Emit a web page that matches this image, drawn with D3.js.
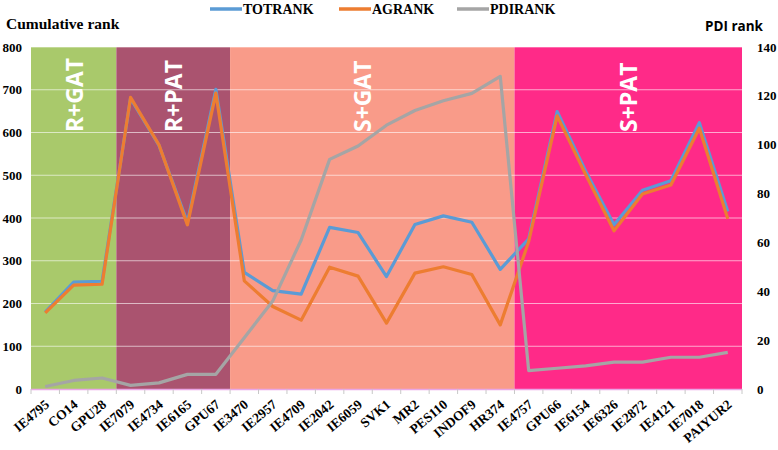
<!DOCTYPE html>
<html><head><meta charset="utf-8">
<script src="https://cdn.jsdelivr.net/npm/d3@7"></script>
<style>body{margin:0;background:#fff}</style>
</head><body>
<svg id="c" width="778" height="450"></svg>
<script>
const categories = ["IE4795","CO14","GPU28","IE7079","IE4734","IE6165","GPU67","IE3470","IE2957","IE4709","IE2042","IE6059","SVK1","MR2","PES110","INDOF9","HR374","IE4757","GPU66","IE6154","IE6326","IE2872","IE4121","IE7018","PAIYUR2"];
const totrank = [180,250,252,680,570,390,701,273,230,222,378,366,263,385,405,390,280,351,649,510,384,465,487,623,415];
const agrank  = [178,243,245,682,571,384,692,253,193,161,285,264,154,271,286,268,150,345,639,502,370,456,477,610,398];
const pdirank = [1,3.5,4.5,1.5,2.5,6,6,21,36,61,94,99.5,108,114,118,121,128,7.5,8.5,9.5,11,11,13,13,15];
const groupNames = ["R+GAT","R+PAT","S+GAT","S+PAT"];
const groupStart = ["IE4795","IE7079","IE3470","IE4757"];
const groupEnd   = ["GPU28","GPU67","HR374","PAIYUR2"];
const groupColors = ["#a9c96b","#aa536f","#f99b89","#ff2a88"];
const leftTicks = [0,100,200,300,400,500,600,700,800];
const rightTicks = [0,20,40,60,80,100,120,140];
const seriesNames = ["TOTRANK","AGRANK","PDIRANK"];
const seriesColors = ["#5b9bd5","#ed7d31","#a5a5a5"];

const svg = d3.select("#c");
const L = 31, R = 742, T = 47, B = 389;
const x = d3.scaleBand().domain(categories).range([L, R]);
const yL = d3.scaleLinear().domain([0, 800]).range([B, T]);
const yR = d3.scaleLinear().domain([0, 140]).range([B, T]);

// backgrounds
groupNames.forEach((g, i) => {
  const x0 = x(groupStart[i]), x1 = x(groupEnd[i]) + x.bandwidth();
  svg.append("rect").attr("x", x0).attr("y", T).attr("width", x1 - x0).attr("height", B - T).attr("fill", groupColors[i]);
});
// gridlines
svg.append("g").selectAll("line").data(leftTicks.filter(d => d > 0)).join("line")
  .attr("x1", L).attr("x2", R).attr("y1", d => yL(d)).attr("y2", d => yL(d))
  .attr("stroke", "#ffffff").attr("stroke-opacity", 0.6).attr("stroke-width", 1.2);

// group labels
groupNames.forEach((g, i) => {
  const x0 = x(groupStart[i]), x1 = x(groupEnd[i]) + x.bandwidth();
  const cx = (x0 + x1) / 2 + (i === 2 ? -10 : 0) + 9;
  svg.append("text").attr("transform", `translate(${cx},132) rotate(-90)`)
    .attr("text-anchor", "start").attr("fill", "#fff").attr("font-weight", "bold")
    .attr("font-family", "Open Sans, sans-serif").attr("font-size", 23).text(g);
});

// bottom axis
svg.append("line").attr("x1", L).attr("x2", R).attr("y1", B + 0.5).attr("y2", B + 0.5)
  .attr("stroke", "#e9a6e6").attr("stroke-width", 1.5);
const tickPos = categories.map(c => x(c)).concat([R]);
svg.append("g").selectAll("line").data(tickPos).join("line")
  .attr("x1", d => d).attr("x2", d => d).attr("y1", B).attr("y2", B + 5)
  .attr("stroke", "#c8c8c8").attr("stroke-width", 1);

// x labels
svg.append("g").selectAll("text").data(categories).join("text")
  .attr("transform", d => `translate(${x(d) + x.bandwidth()/2 + 5},${B + 17}) rotate(-40)`)
  .attr("text-anchor", "end").attr("font-family", "Liberation Serif, serif").attr("font-weight", "bold")
  .attr("font-size", 13.5).attr("fill", "#000").text(d => d);

// y labels
svg.append("g").selectAll("text").data(leftTicks).join("text")
  .attr("x", 22).attr("y", d => yL(d) + 4.5).attr("text-anchor", "end")
  .attr("font-family", "Liberation Serif, serif").attr("font-weight", "bold").attr("font-size", 13).text(d => d);
svg.append("g").selectAll("text").data(rightTicks).join("text")
  .attr("x", 757).attr("y", d => yR(d) + 4.5).attr("text-anchor", "start")
  .attr("font-family", "Liberation Serif, serif").attr("font-weight", "bold").attr("font-size", 13).text(d => d);

svg.append("text").attr("x", 6).attr("y", 29).attr("font-family", "Liberation Serif, serif")
  .attr("font-weight", "bold").attr("font-size", 15.5).text("Cumulative rank");
svg.append("text").attr("x", 763).attr("y", 31).attr("text-anchor", "end").attr("font-family", "Open Sans, sans-serif")
  .attr("font-weight", "bold").attr("font-size", 13.5).text("PDI rank");

// lines
const cx = d => x(d) + x.bandwidth() / 2;
const lineL = d3.line().x((d, i) => cx(categories[i])).y(d => yL(d));
const lineR = d3.line().x((d, i) => cx(categories[i])).y(d => yR(d));
[[totrank, lineL, 0], [agrank, lineL, 1], [pdirank, lineR, 2]].forEach(([data, gen, k]) => {
  svg.append("path").attr("d", gen(data)).attr("fill", "none").attr("stroke", seriesColors[k])
    .attr("stroke-width", 3.2).attr("stroke-linejoin", "round");
});

// legend
const legX = [210, 339, 457];
seriesNames.forEach((s, i) => {
  svg.append("line").attr("x1", legX[i]).attr("x2", legX[i] + 32).attr("y1", 9).attr("y2", 9)
    .attr("stroke", seriesColors[i]).attr("stroke-width", 3.5);
  svg.append("text").attr("x", legX[i] + 33).attr("y", 14).attr("font-family", "Liberation Serif, serif")
    .attr("font-weight", "bold").attr("font-size", 14).text(s);
});
</script>
</body></html>
